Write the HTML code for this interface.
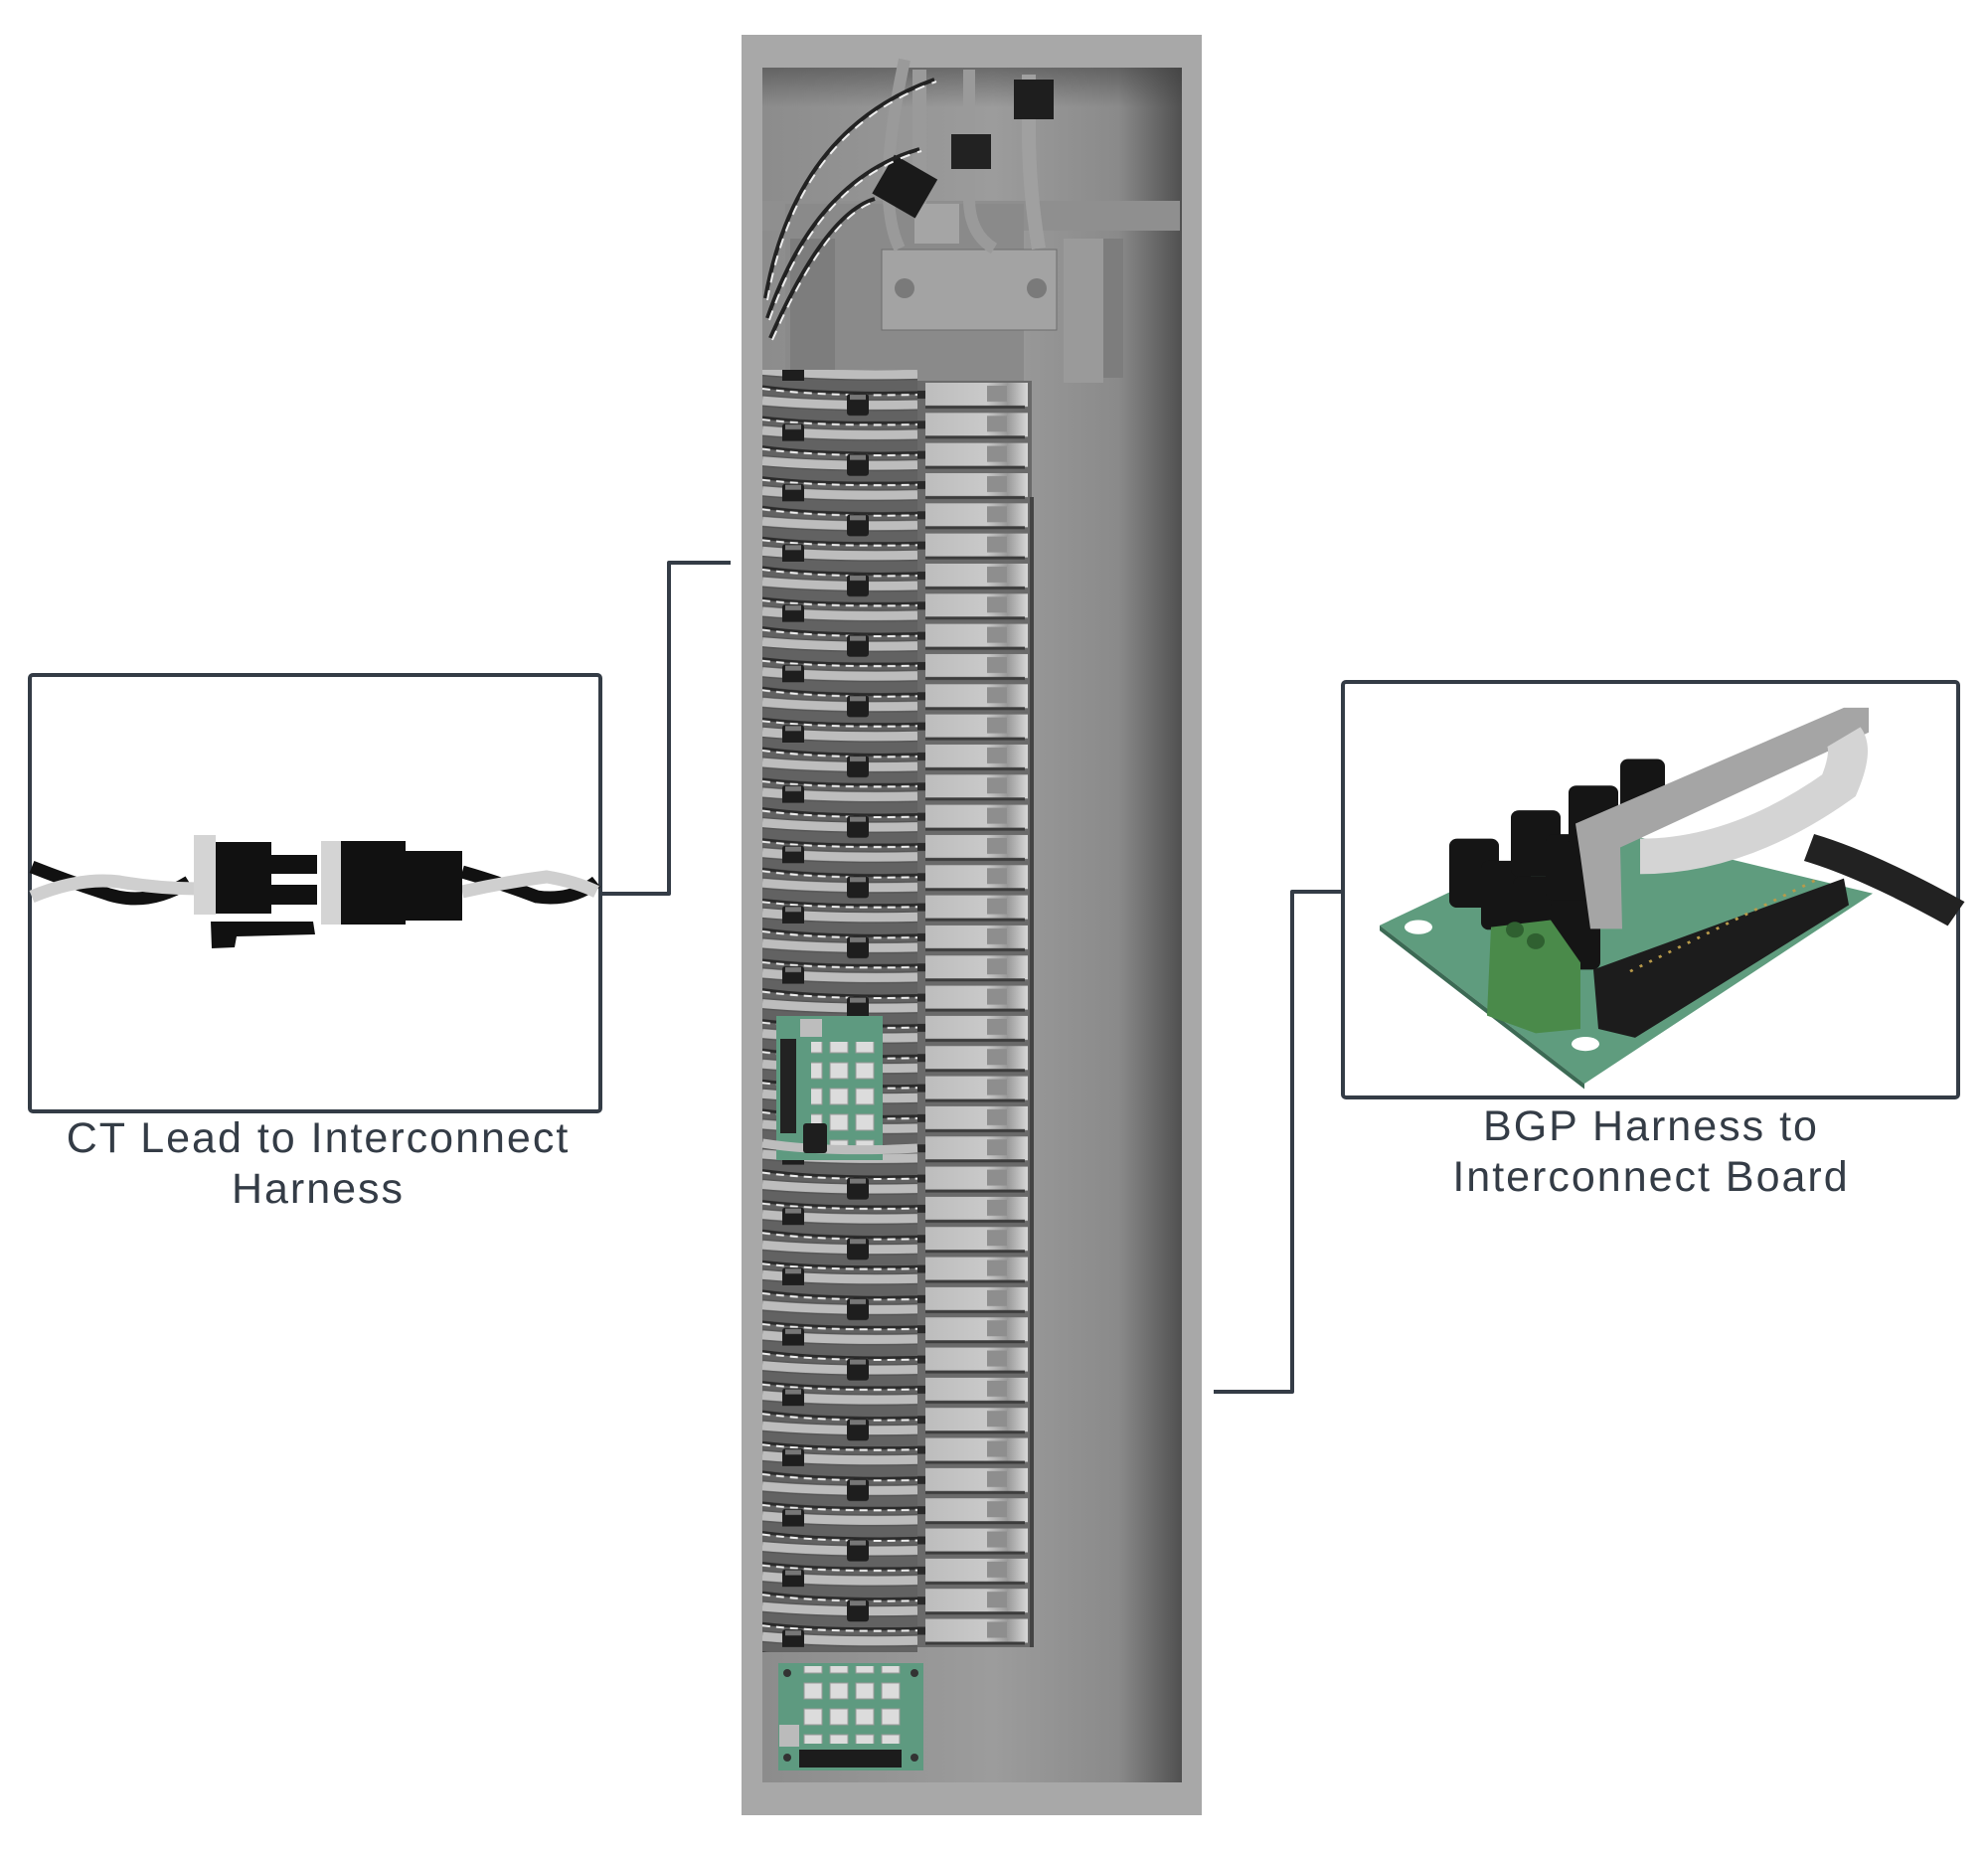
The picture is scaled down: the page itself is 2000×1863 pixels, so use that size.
<!DOCTYPE html>
<html><head><meta charset="utf-8">
<style>
html,body{margin:0;padding:0;background:#fff;}
body{width:2000px;height:1863px;position:relative;overflow:hidden;font-family:"Liberation Sans",sans-serif;}
.lbl{position:absolute;color:#343c46;font-size:43px;text-align:center;letter-spacing:2px;line-height:51px;}
</style></head><body>
<svg width="2000" height="1863" viewBox="0 0 2000 1863" xmlns="http://www.w3.org/2000/svg" style="position:absolute;left:0;top:0">
<defs>
 <linearGradient id="inner" x1="0" x2="1" y1="0" y2="0">
  <stop offset="0" stop-color="#8c8c8c"/><stop offset="0.55" stop-color="#9c9c9c"/><stop offset="0.85" stop-color="#8a8a8a"/><stop offset="1" stop-color="#505050"/>
 </linearGradient>
 <linearGradient id="topshade" x1="0" x2="0" y1="0" y2="1">
  <stop offset="0" stop-color="#3a3a3a"/><stop offset="1" stop-color="#3a3a3a" stop-opacity="0"/>
 </linearGradient>
 <linearGradient id="brk" x1="0" x2="1">
  <stop offset="0" stop-color="#bdbdbd"/><stop offset="0.6" stop-color="#c9c9c9"/><stop offset="0.8" stop-color="#9a9a9a"/><stop offset="1" stop-color="#d8d8d8"/>
 </linearGradient>
 <pattern id="brkp" x="923" y="383" width="115" height="30.33" patternUnits="userSpaceOnUse">
  <rect width="115" height="30.33" fill="#6a6a6a"/>
  <rect x="8" y="2" width="103" height="24" fill="url(#brk)"/>
  <rect x="8" y="25" width="100" height="3" fill="#3c3c3c"/>
  <rect x="70" y="5" width="20" height="16" fill="#8e8e8e"/>
  <rect x="0" y="10" width="8" height="8" fill="#2a2a2a"/>
 </pattern>
 <pattern id="wirep" x="767" y="383" width="156" height="60.66" patternUnits="userSpaceOnUse">
  <rect width="156" height="60.66" fill="#626262"/>
  <path d="M0 6 Q60 14 156 12" stroke="#2a2a2a" stroke-width="3" fill="none"/>
  <path d="M0 8 Q60 16 156 14" stroke="#eee" stroke-width="2" fill="none" stroke-dasharray="8 6"/>
  <path d="M0 20 Q70 26 156 24" stroke="#555" stroke-width="12" fill="none"/>
  <path d="M0 20 Q70 26 156 24" stroke="#bdbdbd" stroke-width="9" fill="none"/>
  <path d="M0 37 Q60 44 156 42" stroke="#2a2a2a" stroke-width="3" fill="none"/>
  <path d="M0 39 Q60 46 156 44" stroke="#eee" stroke-width="2" fill="none" stroke-dasharray="8 6"/>
  <path d="M0 50 Q70 56 156 54" stroke="#555" stroke-width="12" fill="none"/>
  <path d="M0 50 Q70 56 156 54" stroke="#bdbdbd" stroke-width="9" fill="none"/>
  <rect x="85" y="13" width="22" height="22" rx="3" fill="#1e1e1e"/>
  <rect x="88" y="14" width="16" height="5" fill="#777"/>
  <rect x="20" y="43" width="22" height="22" rx="3" fill="#1e1e1e"/>
  <rect x="23" y="44" width="16" height="5" fill="#777"/>
 </pattern>
 <pattern id="led" x="0" y="0" width="26" height="26" patternUnits="userSpaceOnUse">
  <rect x="3" y="3" width="18" height="16" fill="#dcdcdc" stroke="#999"/>
 </pattern>
</defs>

<!-- Panel -->
<rect x="746" y="35" width="463" height="1791" fill="#a8a8a8"/>
<rect x="767" y="68" width="422" height="1725" fill="url(#inner)"/>
<rect x="767" y="68" width="422" height="40" fill="url(#topshade)" opacity="0.5"/>

<!-- top meter/main area -->
<rect x="767" y="202" width="420" height="30" fill="#8f8f8f"/>
<rect x="790" y="205" width="240" height="180" fill="#8a8a8a"/>
<rect x="795" y="240" width="45" height="140" fill="#7d7d7d"/>
<rect x="1085" y="240" width="45" height="140" fill="#7d7d7d"/>
<rect x="1070" y="240" width="40" height="145" fill="#9a9a9a"/>
<rect x="920" y="205" width="45" height="40" fill="#a5a5a5"/>
<rect x="887" y="251" width="176" height="81" fill="#a3a3a3" stroke="#6d6d6d"/>
<circle cx="910" cy="290" r="10" fill="#7a7a7a"/><circle cx="1043" cy="290" r="10" fill="#7a7a7a"/>
<path d="M925 70 L925 205" stroke="#9a9a9a" stroke-width="14"/>
<path d="M975 70 L975 200 Q975 235 1000 250" stroke="#9a9a9a" stroke-width="12" fill="none"/>
<path d="M1035 75 L1035 130 Q1035 190 1045 250" stroke="#a0a0a0" stroke-width="14" fill="none"/>
<path d="M910 60 Q880 200 905 250" stroke="#9a9a9a" stroke-width="12" fill="none"/>
<rect x="1020" y="80" width="40" height="40" fill="#1e1e1e"/>
<rect x="957" y="135" width="40" height="35" fill="#222"/>
<rect x="885" y="165" width="50" height="45" fill="#1a1a1a" transform="rotate(30 910 188)"/>
<path d="M770 300 Q800 130 940 80" stroke="#222" stroke-width="4" fill="none"/>
<path d="M772 302 Q802 132 942 82" stroke="#eee" stroke-width="2" fill="none" stroke-dasharray="10 8"/>
<path d="M772 320 Q820 180 925 150" stroke="#222" stroke-width="4" fill="none"/>
<path d="M774 322 Q822 182 927 152" stroke="#eee" stroke-width="2" fill="none" stroke-dasharray="10 8"/>
<path d="M775 340 Q830 215 880 200" stroke="#222" stroke-width="4" fill="none"/>
<path d="M777 342 Q832 217 882 202" stroke="#eee" stroke-width="2" fill="none" stroke-dasharray="10 8"/>

<!-- wires and breakers -->
<rect x="767" y="372" width="156" height="1290" fill="url(#wirep)"/>
<rect x="923" y="383" width="115" height="1274" fill="url(#brkp)"/>
<rect x="1036" y="500" width="4" height="1157" fill="#444"/>

<!-- middle board -->
<rect x="781" y="1022" width="107" height="145" fill="#5e9a80"/>
<rect x="785" y="1045" width="16" height="95" fill="#222"/>
<rect x="805" y="1025" width="22" height="18" fill="#bdbdbd"/>
<rect x="816" y="1048" width="70" height="105" fill="url(#led)"/>
<path d="M767 1150 Q830 1160 923 1155" stroke="#bdbdbd" stroke-width="9" fill="none"/>
<rect x="808" y="1130" width="24" height="30" rx="3" fill="#1e1e1e"/>

<!-- bottom board -->
<rect x="783" y="1673" width="146" height="108" fill="#5e9a80"/>
<rect x="806" y="1676" width="105" height="78" fill="url(#led)"/>
<rect x="784" y="1735" width="20" height="22" fill="#bbb"/>
<rect x="804" y="1760" width="103" height="18" fill="#1c1c1c"/>
<circle cx="792" cy="1683" r="4" fill="#333"/><circle cx="920" cy="1683" r="4" fill="#333"/>
<circle cx="792" cy="1768" r="4" fill="#333"/><circle cx="920" cy="1768" r="4" fill="#333"/>

<!-- connectors -->
<g stroke="#343c46" stroke-width="4" fill="none" stroke-linejoin="round">
 <rect x="30" y="679" width="574" height="439" rx="3"/>
 <path d="M604 899 L673 899 L673 566 L735 566"/>
 <rect x="1351" y="686" width="619" height="418" rx="3"/>
 <path d="M1351 897 L1300 897 L1300 1400 L1221 1400"/>
</g>

<!-- left inset: twisted wires + connector -->
<g transform="translate(0,-18)">
<path d="M32 890 Q70 905 110 918 Q150 930 190 905" stroke="#111" stroke-width="13" fill="none"/>
<path d="M32 920 Q80 900 120 905 Q160 912 200 912" stroke="#cfcfcf" stroke-width="13" fill="none"/>
<path d="M465 895 Q500 905 540 920 Q575 925 600 905" stroke="#111" stroke-width="13" fill="none"/>
<path d="M465 915 Q510 905 550 900 Q580 905 600 915" stroke="#cfcfcf" stroke-width="13" fill="none"/>
<rect x="195" y="858" width="22" height="80" fill="#d4d4d4"/>
<rect x="217" y="865" width="56" height="72" fill="#111"/>
<rect x="273" y="878" width="46" height="19" fill="#111"/>
<rect x="273" y="908" width="46" height="20" fill="#111"/>
<path d="M212 945 L315 945 L317 958 L238 960 L236 971 L213 972 Z" fill="#111"/>
<rect x="323" y="864" width="20" height="84" fill="#d4d4d4"/>
<rect x="343" y="864" width="65" height="84" fill="#111"/>
<rect x="405" y="874" width="60" height="70" fill="#111"/>
</g>

<!-- right inset: PCB -->
<g transform="translate(0,711) scale(1,0.89) translate(0,-711)">
<polygon points="1388,958 1600,845 1884,922 1594,1137" fill="#5f9c7e"/>
<polygon points="1388,958 1594,1137 1594,1143 1388,964" fill="#3c6a54"/>
<ellipse cx="1427" cy="960" rx="14" ry="8" fill="#fff"/>
<ellipse cx="1595" cy="1092" rx="14" ry="8" fill="#fff"/>
<g fill="#151515">
 <rect x="1458" y="860" width="50" height="78" rx="8"/>
 <rect x="1490" y="885" width="50" height="78" rx="8"/>
 <rect x="1522" y="903" width="50" height="78" rx="8"/>
 <rect x="1560" y="928" width="50" height="80" rx="8"/>
 <rect x="1520" y="828" width="50" height="75" rx="8"/>
 <rect x="1555" y="855" width="50" height="75" rx="8"/>
 <rect x="1578" y="800" width="50" height="70" rx="8"/>
 <rect x="1630" y="770" width="45" height="60" rx="8"/>
</g>
<polygon points="1500,960 1560,952 1590,1000 1590,1075 1545,1080 1496,1060" fill="#4a8a4a"/>
<circle cx="1524" cy="963" r="9" fill="#2f6030"/><circle cx="1545" cy="976" r="9" fill="#2f6030"/>
<polygon points="1603,1008 1855,905 1860,935 1645,1085 1608,1075" fill="#1c1c1c"/>
<path d="M1640 1010 L1830 905" stroke="#b89a4a" stroke-width="3" stroke-dasharray="3 8"/>
<polygon points="1585,843 1855,712 1880,712 1880,740 1630,870 1632,962 1600,962 1590,880" fill="#a5a5a5"/>
<path d="M1650 880 Q1750 880 1850 800 Q1865 760 1855 745" stroke="#d4d4d4" stroke-width="40" fill="none"/>
<path d="M1820 870 Q1880 890 1968 945" stroke="#222" stroke-width="32" fill="none"/>
</g>
</svg>
<div class="lbl" style="left:20px;top:1120px;width:600px;">CT Lead to Interconnect<br>Harness</div>
<div class="lbl" style="left:1361px;top:1108px;width:600px;">BGP Harness to<br>Interconnect Board</div>
</body></html>
